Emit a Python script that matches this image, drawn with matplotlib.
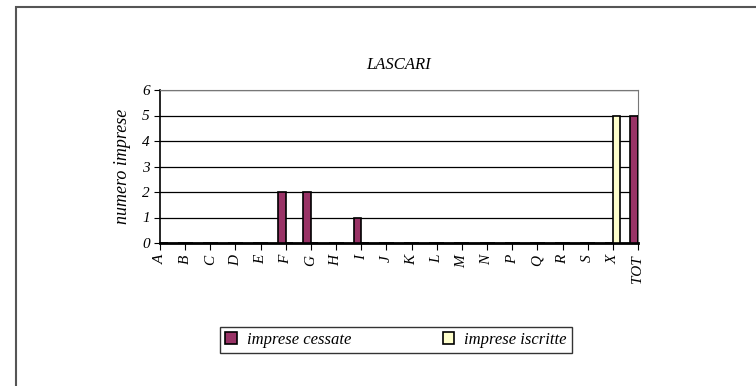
import numpy as np
import matplotlib.pyplot as plt
from matplotlib.patches import Rectangle

categorie = ['A', 'B', 'C', 'D', 'E', 'F', 'G', 'H', 'I', 'J', 'K', 'L',
             'M', 'N', 'P', 'Q', 'R', 'S', 'X', 'TOT']
cessate = [0, 0, 0, 0, 0, 2, 2, 0, 1, 0, 0, 0, 0, 0, 0, 0, 0, 0, 0, 5]
iscritte = [0, 0, 0, 0, 0, 0, 0, 0, 0, 0, 0, 0, 0, 0, 0, 0, 0, 0, 5, 5]

plt.rcParams['font.family'] = ['Liberation Serif', 'DejaVu Serif']
plt.rcParams['font.style'] = 'italic'

fig = plt.figure(figsize=(7.56, 3.86), dpi=100)
# outer frame (only top/left visible in the reference)
fig.patches.append(Rectangle((16 / 756, -0.1), 1.2, 1 - 7 / 386 + 0.1,
                             transform=fig.transFigure, fill=False,
                             edgecolor='#555555', linewidth=1.5))

ax = fig.add_axes([160 / 756, 1 - 243 / 386, (638 - 160) / 756, (243 - 90) / 386])
x = np.arange(len(categorie))
w = 0.3
ax.bar(x, cessate, width=w, align='edge', color='#993366', edgecolor='black',
       linewidth=1.2, label='imprese cessate', zorder=3)
ax.bar(x, iscritte, width=w, align='edge', color='#FFFFCC', edgecolor='black',
       linewidth=1.2, label='imprese iscritte', zorder=3)
# cessate bars sit to the left of the tick
for p in ax.patches[:len(categorie)]:
    p.set_x(p.get_x() - w)

ax.set_xlim(0, len(categorie) - 1)
ax.set_ylim(0, 6)
ax.set_yticks(range(7))
ax.set_xticks(x)
ax.set_xticklabels(categorie, rotation=90, fontsize=11)
ax.tick_params(axis='y', labelsize=11, length=4, direction='out')
ax.tick_params(axis='x', length=5, direction='out')
ax.yaxis.grid(True, color='black', linewidth=0.9, zorder=0)
ax.set_axisbelow(True)
for s in ['top', 'right']:
    ax.spines[s].set_color('#777777')
ax.spines['left'].set_linewidth(1.2)
ax.spines['bottom'].set_linewidth(2)
ax.set_ylabel('numero imprese', fontsize=13, labelpad=8)
ax.set_title('LASCARI', fontsize=12, pad=15)

handles, labels = ax.get_legend_handles_labels()
leg = fig.legend(handles, labels, loc='center', ncol=2,
                 bbox_to_anchor=(396 / 756, 1 - 340 / 386), fontsize=12,
                 frameon=True, fancybox=False, edgecolor='black',
                 handlelength=0.7, handleheight=0.7, columnspacing=5.5,
                 borderpad=0.3, borderaxespad=0, handletextpad=0.6)
leg.get_frame().set_linewidth(1)

fig.savefig('out.png', dpi=100)
